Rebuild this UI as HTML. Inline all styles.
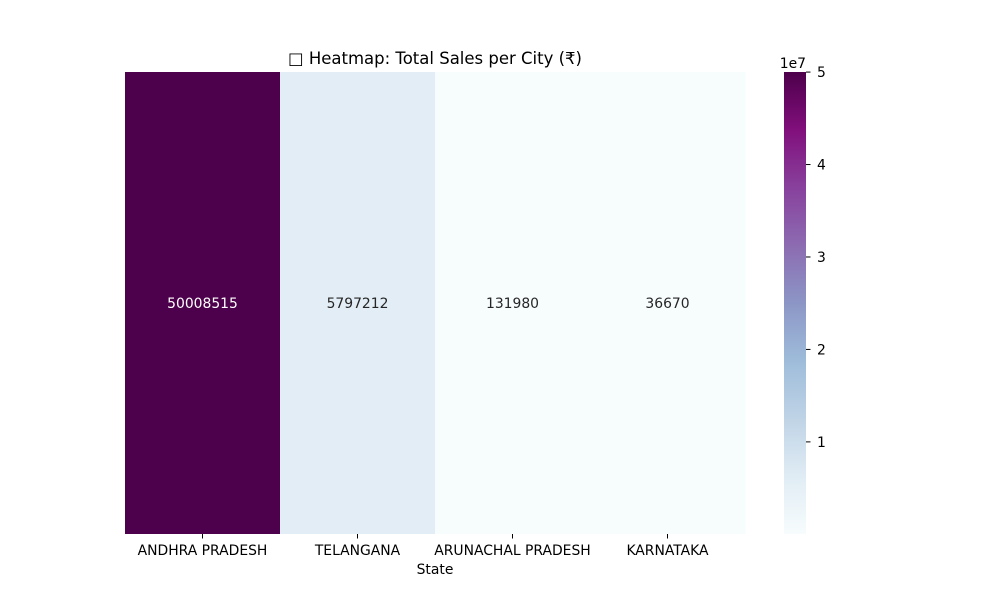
<!DOCTYPE html>
<html><head><meta charset="utf-8"><style>
html,body{margin:0;padding:0;background:#fff;}
svg text{font-family:"DejaVu Sans","Liberation Sans","Noto Sans CJK SC",sans-serif;}
</style></head><body>
<svg id="chart" width="1000" height="600" xmlns="http://www.w3.org/2000/svg">
<defs>
<linearGradient id="cbgrad" x1="0" y1="1" x2="0" y2="0">
<stop offset="0" stop-color="#f7fcfd"/><stop offset="0.125" stop-color="#e0ecf4"/><stop offset="0.25" stop-color="#bfd3e6"/><stop offset="0.375" stop-color="#9ebcda"/><stop offset="0.5" stop-color="#8c96c6"/><stop offset="0.625" stop-color="#8c6bb1"/><stop offset="0.75" stop-color="#88419d"/><stop offset="0.875" stop-color="#810f7c"/><stop offset="1" stop-color="#4d004b"/>
</linearGradient>
</defs>
<text x="435" y="64" text-anchor="middle" font-size="16.5">□ Heatmap: Total Sales per City (₹)</text>
<g id="cells"></g>
<g id="xticks"></g>
<text x="435" y="574" text-anchor="middle" font-size="13.9">State</text>
<rect x="784" y="72" width="22" height="462" fill="url(#cbgrad)"/>
<g id="cbticks"></g>
<text x="806" y="68" text-anchor="end" font-size="13.9">1e7</text>
</svg>
<script>
const states = ["ANDHRA PRADESH","TELANGANA","ARUNACHAL PRADESH","KARNATAKA"];
const sales = [50008515,5797212,131980,36670];
const cbTicks = [1,2,3,4,5];
const NS="http://www.w3.org/2000/svg";
const stops=["#f7fcfd","#e0ecf4","#bfd3e6","#9ebcda","#8c96c6","#8c6bb1","#88419d","#810f7c","#4d004b"].map(h=>[1,3,5].map(i=>parseInt(h.substr(i,2),16)));
const vmin=Math.min(...sales), vmax=Math.max(...sales);
function color(v){let t=(v-vmin)/(vmax-vmin);t=Math.max(0,Math.min(1,t));const p=t*8,i=Math.min(7,Math.floor(p)),f=p-i;const c=stops[i].map((a,k)=>Math.round(a+(stops[i+1][k]-a)*f));return {s:`rgb(${c})`,l:(0.299*c[0]+0.587*c[1]+0.114*c[2])};}
const x0=125,x1=745,y0=72,y1=534,cw=(x1-x0)/states.length;
const xs=i=>x0+i*cw;
const cby=v=>y1-(v-vmin)/(vmax-vmin)*(y1-y0);
function mk(tag,attrs,parent){const e=document.createElementNS(NS,tag);for(const k in attrs)e.setAttribute(k,attrs[k]);document.getElementById(parent).appendChild(e);return e;}
states.forEach((s,i)=>{
 const c=color(sales[i]);
 const r=mk("rect",{x:xs(i),y:y0,width:cw+0.5,height:y1-y0,fill:c.s},"cells");
 
 
 const t=mk("text",{x:xs(i)+cw/2,y:(y0+y1)/2+5,"text-anchor":"middle","font-size":"13.9",fill:c.l<128?"#fff":"#262626"},"cells");
 t.textContent=sales[i];
 
 
 const tk=mk("line",{x1:xs(i)+cw/2,x2:xs(i)+cw/2,y1:y1,y2:y1+4.5,stroke:"#000"},"xticks");
 
 
 const lb=mk("text",{x:xs(i)+cw/2,y:y1+21,"text-anchor":"middle","font-size":"13.9"},"xticks");
 lb.textContent=s;
 
 
});
cbTicks.forEach(v=>{
 const y=cby(v*1e7);
 const l=mk("line",{x1:806,x2:810.5,y1:y,y2:y,stroke:"#000"},"cbticks");
 
 
 const t=mk("text",{x:817,y:y+5,"font-size":"13.9"},"cbticks");
 t.textContent=v;
 
 
});
</script>
</body></html>
